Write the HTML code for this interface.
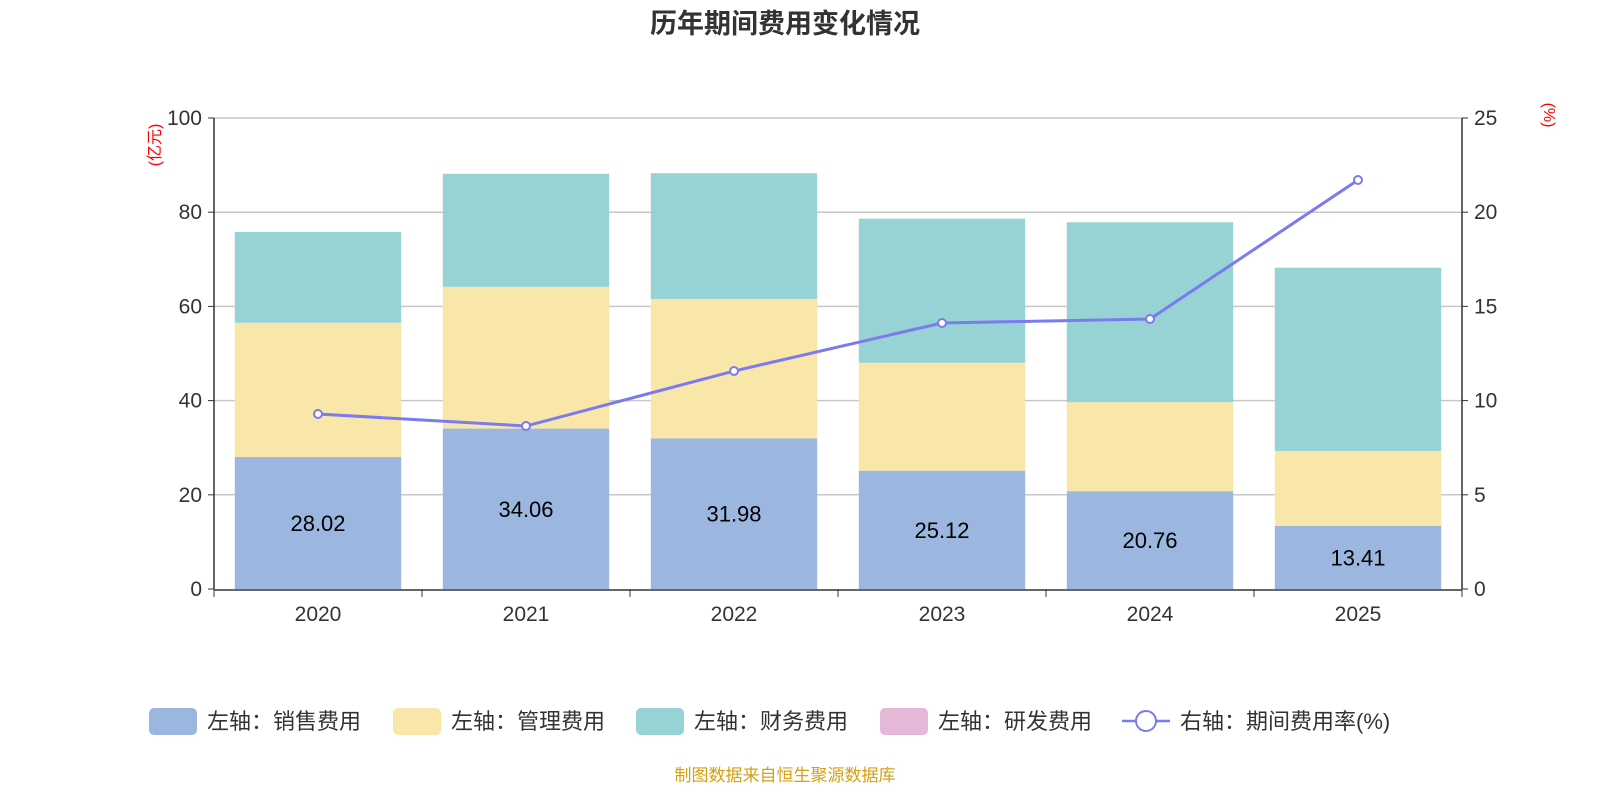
<!DOCTYPE html>
<html><head><meta charset="utf-8"><style>
html,body{margin:0;padding:0;background:#fff;}
svg{display:block;font-family:"Liberation Sans","Noto Sans CJK SC",sans-serif;}
</style></head><body>
<svg id="chart" width="1600" height="800" viewBox="0 0 1600 800" xmlns="http://www.w3.org/2000/svg">
<text x="785" y="33" text-anchor="middle" font-size="27" font-weight="bold" fill="#333">历年期间费用变化情况</text>
<text transform="translate(160,145) rotate(-90)" text-anchor="middle" font-size="16" fill="red">(亿元)</text>
<text transform="translate(1544,115) rotate(90)" text-anchor="middle" font-size="16" fill="red">(%)</text>
<g id="grid"></g><g id="bars"></g><g id="axes"></g><g id="line"></g>
<g font-size="22" fill="#333">
 <g><rect x="149" y="708" width="48" height="27" rx="5" fill="#9bb7e0"/><text x="207" y="729">左轴：销售费用</text></g>
 <g><rect x="393" y="708" width="48" height="27" rx="5" fill="#f8e7a8"/><text x="451" y="729">左轴：管理费用</text></g>
 <g><rect x="636" y="708" width="48" height="27" rx="5" fill="#97d3d4"/><text x="694" y="729">左轴：财务费用</text></g>
 <g><rect x="880" y="708" width="48" height="27" rx="5" fill="#e5b8d8"/><text x="938" y="729">左轴：研发费用</text></g>
 <g><line x1="1122" y1="721" x2="1170" y2="721" stroke="#7b7bef" stroke-width="2.5"/><circle cx="1146" cy="721" r="10" fill="#fff" stroke="#7b7bef" stroke-width="2"/><text x="1180" y="729">右轴：期间费用率(%)</text></g>
</g>
<text x="785" y="781" text-anchor="middle" font-size="17" fill="#d4a017">制图数据来自恒生聚源数据库</text>
</svg>
<script>
const years=["2020","2021","2022","2023","2024","2025"];
const sales=[28.02,34.06,31.98,25.12,20.76,13.41];
const admin=[28.5,30.1,29.6,22.9,18.9,15.9];
const finance=[19.3,24.0,26.7,30.6,38.2,38.9];
const rate=[9.29,8.65,11.57,14.12,14.33,21.71];
const leftTicks=[0,20,40,60,80,100];
const rightTicks=[0,5,10,15,20,25];
const NS="http://www.w3.org/2000/svg";
const X0=214,X1=1462,Y0=589,Y1=118;
const band=(X1-X0)/years.length;
const xc=i=>X0+band*(i+0.5);
const yL=v=>Y0-(v/100)*(Y0-Y1);
const yR=v=>Y0-(v/25)*(Y0-Y1);
function mk(tag,attrs,parent){const e=document.createElementNS(NS,tag);for(const k in attrs)e.setAttribute(k,attrs[k]);parent.appendChild(e);return e;}
const grid=document.getElementById('grid'),bars=document.getElementById('bars'),axes=document.getElementById('axes'),line=document.getElementById('line');
leftTicks.forEach((t,i)=>{
 if(t>0){const g=mk('line',{x1:X0,x2:X1,y1:yL(t),y2:yL(t),stroke:'#c8c8c8','stroke-width':1.5},grid);
 
 }
 const tl=mk('text',{x:X0-12,y:yL(t)+7,'text-anchor':'end','font-size':21,fill:'#333'},axes);tl.textContent=t;
 
 
 mk('line',{x1:X0-6,x2:X0,y1:yL(t),y2:yL(t),stroke:'#333'},axes);
});
rightTicks.forEach(t=>{
 const tl=mk('text',{x:X1+12,y:yR(t)+7,'font-size':21,fill:'#333'},axes);tl.textContent=t;
 
 
 mk('line',{x1:X1,x2:X1+6,y1:yR(t),y2:yR(t),stroke:'#333'},axes);
});
mk('line',{x1:X0,x2:X0,y1:Y1,y2:Y0,stroke:'#333','stroke-width':1.5},axes);
mk('line',{x1:X1,x2:X1,y1:Y1,y2:Y0,stroke:'#333','stroke-width':1.5},axes);
mk('line',{x1:X0,x2:X1,y1:Y0+1,y2:Y0+1,stroke:'#333','stroke-width':1.5},axes);
for(let i=0;i<=years.length;i++)mk('line',{x1:X0+band*i,x2:X0+band*i,y1:Y0,y2:Y0+8,stroke:'#333'},axes);
const bw=band*0.8;
years.forEach((y,i)=>{
 const xl=xc(i)-bw/2;
 let base=0;
 [[sales,'#9bb7e0','sales'],[admin,'#f8e7a8','admin'],[finance,'#97d3d4','finance']].forEach(([arr,c,n])=>{
  const r=mk('rect',{x:xl,width:bw,y:yL(base+arr[i]),height:yL(base)-yL(base+arr[i]),fill:c},bars);
  
  
  base+=arr[i];
 });
 const lb=mk('text',{x:xc(i),y:yL(sales[i]/2)+8,'text-anchor':'middle','font-size':22,fill:'#000'},bars);lb.textContent=sales[i].toFixed(2);
 
 
 const xt=mk('text',{x:xc(i),y:621,'text-anchor':'middle','font-size':21,fill:'#333'},axes);xt.textContent=y;
 
 
});
const pl=mk('polyline',{points:rate.map((v,i)=>xc(i)+','+yR(v)).join(' '),fill:'none',stroke:'#7b7bef','stroke-width':3},line);


rate.forEach((v,i)=>{
 const c=mk('circle',{cx:xc(i),cy:yR(v),r:4,fill:'#fff',stroke:'#7b7bef','stroke-width':2},line);
 
 
});
</script>
</body></html>
